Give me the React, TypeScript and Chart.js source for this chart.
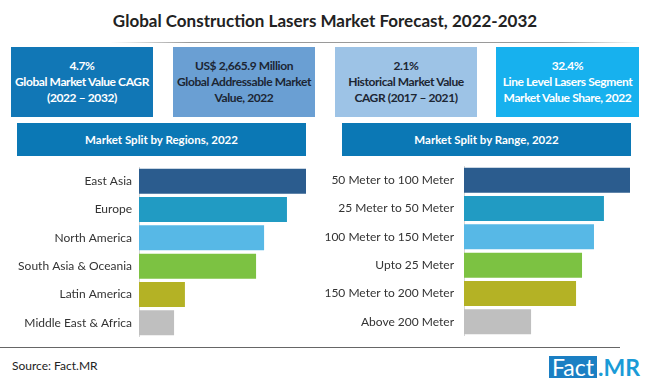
import React, { useEffect, useRef } from "react";
import { Chart, registerables } from "chart.js";
Chart.register(...registerables);

const regionLabels = ["East Asia", "Europe", "North America", "South Asia & Oceania", "Latin America", "Middle East & Africa"];
const regionValues = [100, 88.6, 74.9, 70.1, 27.5, 21.0];
const rangeLabels = ["50 Meter to 100 Meter", "25 Meter to 50 Meter", "100 Meter to 150 Meter", "Upto 25 Meter", "150 Meter to 200 Meter", "Above 200 Meter"];
const rangeValues = [100, 84.3, 78.3, 71.1, 67.5, 40.4];
const barColors = ["#2b5c8e", "#219bc3", "#57b8e6", "#7cc242", "#b4b225", "#bfbfbf"];

const FONT = "Lato, 'Open Sans', sans-serif";

type BarProps = { labels: string[]; values: number[]; left: number; top: number; width: number; height: number; axisWidth: number; pad: number };

function BarChart({ labels, values, left, top, width, height, axisWidth, pad }: BarProps) {
  const ref = useRef<HTMLCanvasElement | null>(null);
  useEffect(() => {
    if (!ref.current) return;
    const chart = new Chart(ref.current, {
      type: "bar",
      data: {
        labels,
        datasets: [{ data: values, backgroundColor: barColors, borderWidth: 0, barPercentage: 0.88, categoryPercentage: 1 }],
      },
      options: {
        indexAxis: "y",
        animation: false,
        responsive: false,
        layout: { padding: 0 },
        plugins: { legend: { display: false }, tooltip: { enabled: false } },
        scales: {
          x: { display: false, min: 0, max: 100 },
          y: {
            grid: { display: false, drawTicks: false },
            border: { display: true, color: "#d6d6d6", width: 1 },
            ticks: { color: "#333", font: { family: FONT, size: 12 }, padding: pad },
            afterFit: (s: any) => { s.width = axisWidth; s.paddingTop = 0; s.paddingBottom = 0; },
          },
        },
      } as any,
    });
    return () => chart.destroy();
  }, []);
  return <canvas ref={ref} width={width} height={height} style={{ position: "absolute", left, top, width, height }} />;
}

const boxBase: React.CSSProperties = {
  position: "absolute", top: 47, width: 142, height: 70, display: "flex", alignItems: "center", justifyContent: "center",
  textAlign: "center", fontSize: 12, fontWeight: 700, lineHeight: "16px", whiteSpace: "nowrap", letterSpacing: "-0.4px",
};

const header: React.CSSProperties = {
  position: "absolute", top: 123, width: 289, height: 33, background: "#0b78b5", color: "#fff", fontWeight: 700,
  fontSize: 11.5, display: "flex", alignItems: "center", justifyContent: "center",
};

export default function App() {
  return (
    <div style={{ position: "fixed", left: 0, top: 0, width: 650, height: 385, background: "#fff", fontFamily: FONT, overflow: "hidden" }}>
      <div style={{ position: "absolute", top: 11, left: 0, width: 650, textAlign: "center", fontSize: 17, lineHeight: "20px", fontWeight: 700, color: "#222" }}>
        Global Construction Lasers Market Forecast, 2022-2032
      </div>
      <div style={{ position: "absolute", top: 42, left: 110, width: 530, height: 1, background: "linear-gradient(to right, rgba(150,150,150,0), #9a9a9a 15%, #9a9a9a 85%, rgba(150,150,150,0))" }} />
      <div style={{ ...boxBase, left: 11, background: "#1177b6", color: "#fff" }}>4.7%<br />Global Market Value CAGR<br />(2022 – 2032)</div>
      <div style={{ ...boxBase, left: 173, background: "#6a9fd3", color: "#1c2633" }}>US$ 2,665.9 Million<br />Global Addressable Market<br />Value, 2022</div>
      <div style={{ ...boxBase, left: 335, background: "#9dc3e6", color: "#1c2633" }}>2.1%<br />Historical Market Value<br />CAGR (2017 – 2021)</div>
      <div style={{ ...boxBase, left: 496, width: 143, background: "#17b1ee", color: "#fff" }}>32.4%<br />Line Level Lasers Segment<br />Market Value Share, 2022</div>
      <div style={{ ...header, left: 17 }}>Market Split by Regions, 2022</div>
      <div style={{ ...header, left: 342 }}>Market Split by Range, 2022</div>
      <BarChart labels={regionLabels} values={regionValues} left={0} top={167} width={306} height={170} axisWidth={139} pad={7} />
      <BarChart labels={rangeLabels} values={rangeValues} left={315} top={166} width={315} height={170} axisWidth={149} pad={10} />
      <div style={{ position: "absolute", top: 347, left: 0, width: 620, height: 1, background: "#666" }} />
      <div style={{ position: "absolute", top: 358, left: 12, fontSize: 12, color: "#222" }}>Source: Fact.MR</div>
      <div style={{ position: "absolute", top: 356, left: 549, width: 48, height: 22, background: "#1b7fc3", color: "#fff", fontSize: 23, lineHeight: "22px", textAlign: "center" }}>Fact</div>
      <div style={{ position: "absolute", top: 356, left: 598, height: 22, color: "#1a9bd7", fontSize: 23, lineHeight: "22px", fontWeight: 700 }}>.MR</div>
    </div>
  );
}
